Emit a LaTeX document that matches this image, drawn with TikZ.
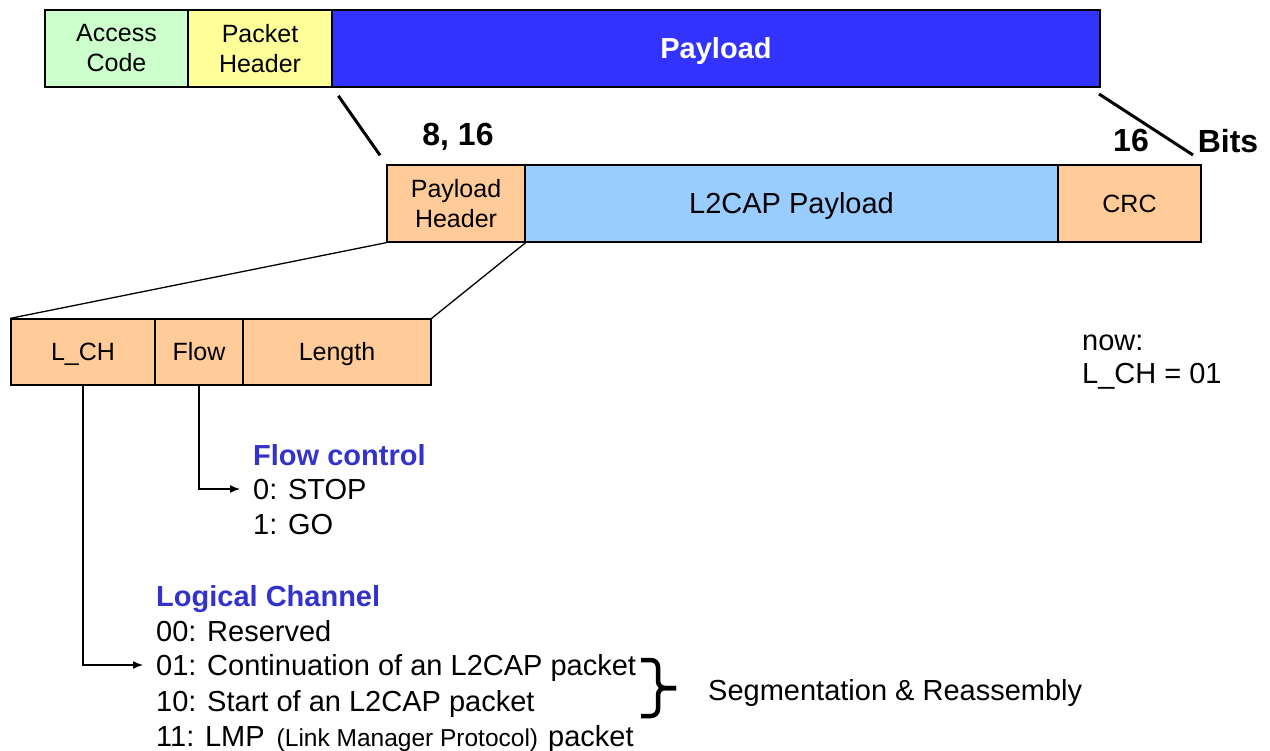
\documentclass[tikz,border=0pt]{standalone}
\usepackage{fontspec}
\setmainfont{Liberation Sans}
\usetikzlibrary{arrows.meta}

\definecolor{accessgreen}{HTML}{CCFFCC}
\definecolor{headeryellow}{HTML}{FFFF99}
\definecolor{payloadblue}{HTML}{3333FF}
\definecolor{fieldorange}{HTML}{FFCC99}
\definecolor{lightblue}{HTML}{99CCFF}
\definecolor{titleblue}{HTML}{3333CC}

\tikzset{
  field/.style={draw=black, line width=1.3pt, inner sep=0pt, align=center,
    font=\fontsize{25}{30}\selectfont},
  oneline/.style={text height=18pt, text depth=0pt},
  bigline/.style={text height=20.8pt, text depth=0pt},
  toprow/.style={field, minimum height=77pt},
  midrow/.style={field, minimum height=77pt},
  botrow/.style={field, oneline, minimum height=66pt},
  bitlabel/.style={inner sep=0pt, font=\bfseries\fontsize{32}{36}\selectfont},
  listline/.style={inner sep=0pt, anchor=west, bigline,
    font=\fontsize{29}{35}\selectfont},
  listtitle/.style={listline, text=titleblue, font=\bfseries\fontsize{29}{35}\selectfont},
  zoomline/.style={line width=3pt},
  fanline/.style={line width=1.3pt},
  pointer/.style={line width=1.3pt, -{Latex[length=10pt,width=8pt]}, shorten >=13pt},
  bracestroke/.style={line width=4.5pt, rounded corners=7pt}
}

\begin{document}
\begin{tikzpicture}[x=1pt, y=-1pt]
  \useasboundingbox (0,0) rectangle (1270,751);

  % baseband packet
  \node[toprow, fill=accessgreen, minimum width=143pt] (ac) at (116.5,48.5) {Access\\Code};
  \node[toprow, fill=headeryellow, minimum width=144pt] (ph) at (260,48.5) {Packet\\Header};
  \node[toprow, bigline, fill=payloadblue, minimum width=768pt, text=white,
        font=\bfseries\fontsize{29}{34}\selectfont] (pay) at (716,48.5) {Payload};

  % payload structure
  \node[midrow, fill=fieldorange, minimum width=138pt] (plh) at (456,203.5) {Payload\\Header};
  \node[midrow, bigline, fill=lightblue, minimum width=533pt,
        font=\fontsize{29}{34}\selectfont] (l2p) at (791.5,203.5) {L2CAP Payload};
  \node[midrow, oneline, fill=fieldorange, minimum width=143pt] (crc) at (1129.5,203.5) {CRC};

  % payload header fields
  \node[botrow, fill=fieldorange, minimum width=144pt] (lch) at (83,352) {L\_CH};
  \node[botrow, fill=fieldorange, minimum width=88pt] (flow) at (199,352) {Flow};
  \node[botrow, fill=fieldorange, minimum width=188pt] (len) at (337,352) {Length};

  % bit counts
  \node[bitlabel] (b816) at (458,137) {8, 16};
  \node[bitlabel] (b16) at (1131,140) {16};
  \node[bitlabel] (bits) at (1228,141) {Bits};

  % expansion lines
  \coordinate (zr1) at (1099,94);
  \coordinate (zr2) at (1193,155);
  \draw[zoomline, shorten <=10pt, shorten >=11pt] (ph.south east) -- (plh.north west);
  \draw[zoomline] (zr1) -- (zr2);
  \draw[fanline] (plh.south west) -- (lch.north west);
  \draw[fanline] (plh.south east) -- (len.north east);

  % flow control
  \node[listtitle] (fctitle) at (253,455) {Flow control};
  \node[listline] (fstop) at (253,489) {0: STOP};
  \node[listline] (fgo) at (253,524) {1: GO};

  % logical channel
  \node[listtitle] (lctitle) at (156,596) {Logical Channel};
  \node[listline] (lc00) at (156,631) {00: Reserved};
  \node[listline] (lc01) at (156,665) {01: Continuation of an L2CAP packet};
  \node[listline] (lc10) at (156,701) {10: Start of an L2CAP packet};
  \node[listline] (lc11) at (156,736) {11: LMP\hspace{12pt}{\fontsize{24.5}{28}\selectfont(Link Manager Protocol)}\hspace{10pt}packet};

  \draw[pointer] (flow.south) |- (fstop.west);
  \draw[pointer] (lch.south) |- (lc01.west);

  % segmentation brace
  \draw[bracestroke] (641,660) -- (658,660) -- (658,688) -- (676,688);
  \draw[bracestroke] (641,716) -- (658,716) -- (658,688) -- (676,688);
  \node[listline] (sar) at (708,690) {Segmentation \& Reassembly};

  % current value
  \node[listline] (now) at (1082,340) {now:};
  \node[listline] (nowval) at (1082,373) {L\_CH = 01};
\end{tikzpicture}
\end{document}
